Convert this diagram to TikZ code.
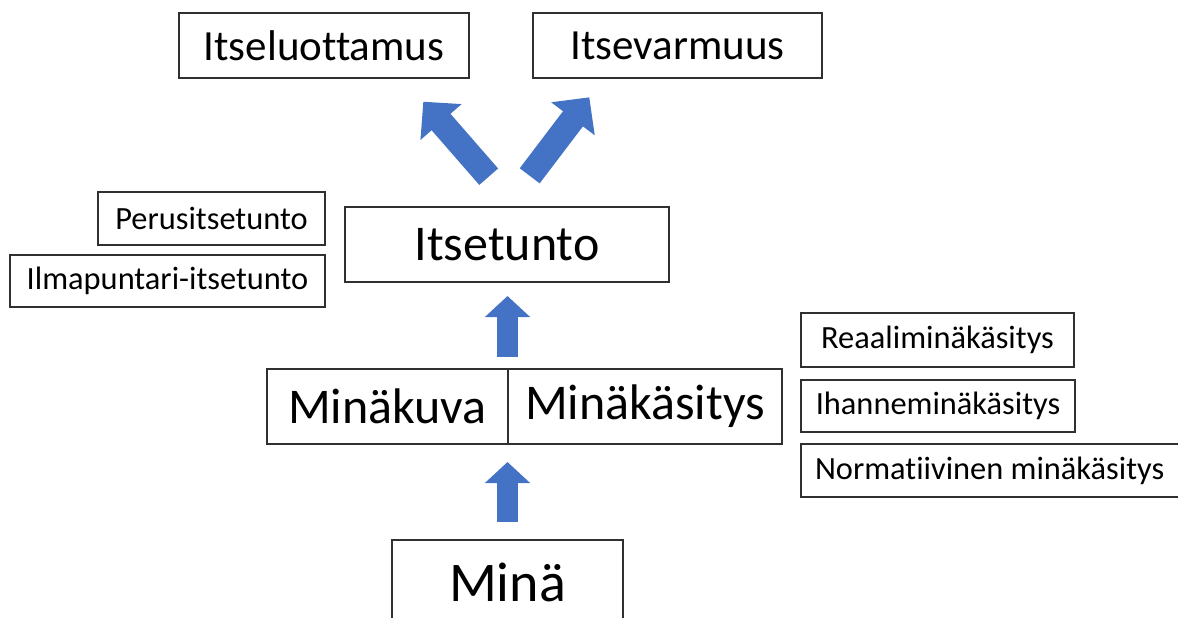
\documentclass[tikz,border=0pt]{standalone}
\usepackage{fontspec}
\setmainfont{Carlito}[RawFeature={-liga;-dlig;-clig}]
\usetikzlibrary{arrows.meta}
\definecolor{arrowblue}{HTML}{4472C4}
\definecolor{boxline}{HTML}{303030}
\tikzset{
  box/.style={draw=boxline, line width=1.2pt, rectangle, inner sep=0pt, text=black},
  bigtxt/.style={font=\fontsize{50}{56}\selectfont},
  midtxt/.style={font=\fontsize{43}{48}\selectfont},
  smalltxt/.style={font=\fontsize{32.4}{36}\selectfont},
  uparrow/.style={draw=arrowblue, line width=21pt, -{Triangle[length=21pt,width=44pt]}},
  diagarrow/.style={draw=arrowblue, line width=25pt, -{Triangle[length=27pt,width=53pt]}}
}
\begin{document}
\begin{tikzpicture}[x=1pt,y=-1pt]
\clip (0,0) rectangle (1178,618);
\useasboundingbox (0,0) rectangle (1178,618);
% top boxes
\node[box,midtxt,minimum width=290pt,minimum height=65pt] (luott) at (324,45.5) {Itseluottamus};
\node[box,midtxt,minimum width=289pt,minimum height=65pt] (varm) at (677.5,45.5) {Itsevarmuus};
% itsetunto
\node[box,bigtxt,minimum width=324pt,minimum height=75pt] (itse) at (507,244.5) {Itsetunto};
\node[box,smalltxt,minimum width=227pt,minimum height=53pt] (perus) at (211.5,218.5) {Perusitsetunto};
\node[box,smalltxt,minimum width=315pt,minimum height=52pt] (ilma) at (167.5,281) {Ilmapuntari-itsetunto};
% minakuva / minakasitys
\node[box,bigtxt,minimum width=241pt,minimum height=75pt] (mkuva) at (387.5,406.5) {Minäkuva};
\node[box,bigtxt,minimum width=274pt,minimum height=75pt] (mkasit) at (645,406.5) {Minäkäsitys};
% right boxes
\node[box,smalltxt,minimum width=273pt,minimum height=54pt] (reaali) at (937.5,340) {Reaaliminäkäsitys};
\node[box,smalltxt,minimum width=274pt,minimum height=52pt] (ihanne) at (938,406) {Ihanneminäkäsitys};
\node[box,smalltxt,minimum width=385pt,minimum height=53pt] (norm) at (993.5,470.5) {\makebox[357pt][l]{Normatiivinen minäkäsitys}};
% mina
\node[box,font=\fontsize{56}{60}\selectfont,minimum width=231pt,minimum height=120pt,text height=40pt,text depth=37pt] (mina) at (507.5,600) {Minä};
% arrow coordinates
\coordinate (a1s) at (507.5,522);
\coordinate (a1t) at (507.5,462);
\coordinate (a2s) at (507.5,357);
\coordinate (a2t) at (507.5,296);
\coordinate (a3s) at (488.7,176.7);
\coordinate (a3t) at (423.3,101.7);
\coordinate (a4s) at (529.7,175.8);
\coordinate (a4t) at (589.3,97.3);
\draw[uparrow] (a1s) -- (a1t);
\draw[uparrow] (a2s) -- (a2t);
\draw[diagarrow] (a3s) -- (a3t);
\draw[diagarrow] (a4s) -- (a4t);
\end{tikzpicture}
\end{document}
